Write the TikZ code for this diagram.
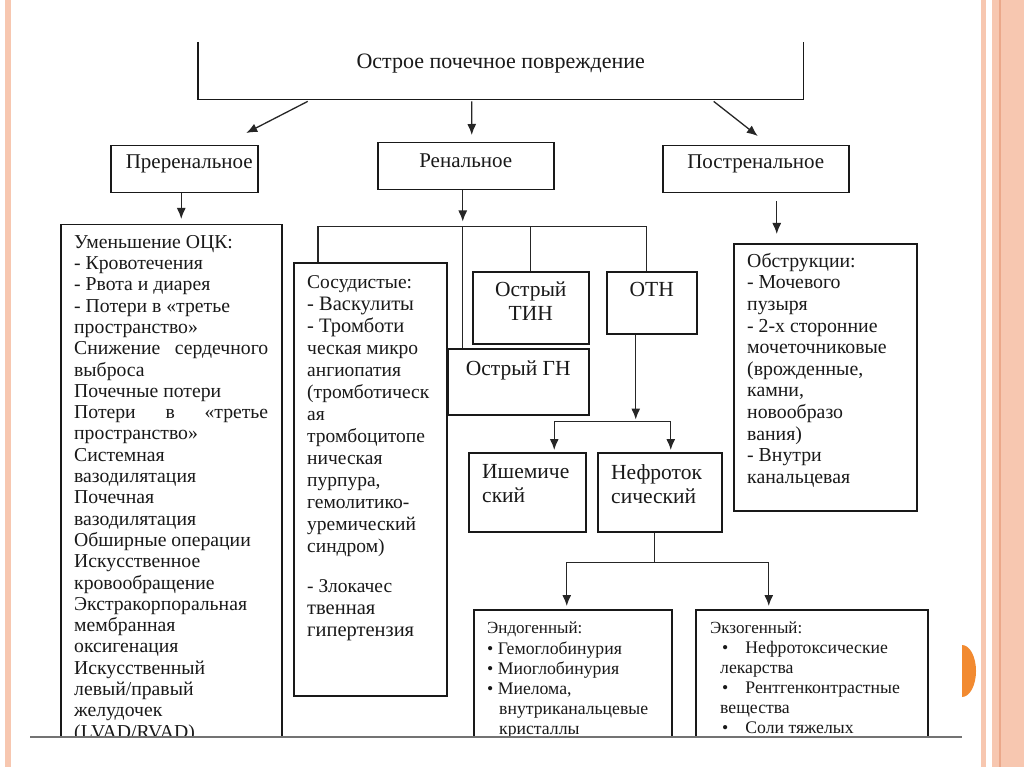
\documentclass[tikz,border=0pt]{standalone}
\usepackage{fontspec}
\setmainfont{Liberation Serif}
\usetikzlibrary{arrows.meta,positioning,calc}
\definecolor{slidepeach}{HTML}{F7C7B0}
\definecolor{slidepeachdk}{HTML}{EBA88A}
\definecolor{slidetab}{HTML}{F28A30}
\newcommand{\fsz}[2]{\fontsize{#1}{#2}\selectfont}
\newcommand{\wideline}[1]{\makebox[194pt][s]{#1}}
\tikzstyle{frame}=[draw=black!90, line width=1.5pt, inner sep=0pt, anchor=north west]
\tikzstyle{txt}=[inner sep=0pt, align=left, text=black!90]
\tikzstyle{ctr}=[inner sep=0pt, align=center, text=black!90, font=\fsz{21}{24}]
\tikzstyle{link}=[draw=black!85, line width=1.3pt]
\tikzstyle{arr}=[link, -{Latex[length=11pt,width=9pt]}]

\begin{document}
\begin{tikzpicture}[x=1pt,y=-1pt]
	\useasboundingbox (0,0) rectangle (1024,767);
	\fill[white] (0,0) rectangle (1024,767);
	\fill[slidepeach] (5,0) rectangle (11,767);
	\fill[slidepeach] (981,0) rectangle (986,767);
	\fill[slidepeach] (992,0) rectangle (1024,767);
	\fill[slidepeachdk] (999,0) rectangle (1001,767);
	\begin{scope}
		\clip (962,600) rectangle (990,740);
		\fill[slidetab] (962,671) ellipse [x radius=14, y radius=26];
	\end{scope}

	\begin{scope}
	\clip (0,0) rectangle (1024,737);
	% top level
	\node[anchor=north west, inner sep=0pt, minimum width=605pt, minimum height=57pt] (ark) at (198,42) {};
	\draw[line width=1.5pt, black!90] (ark.north west) -- (ark.south west) -- (ark.south east) -- (ark.north east);
	\node[ctr, font=\fsz{22}{24}, below=12pt of ark.north] (arktxt) {Острое почечное повреждение};

	\node[frame, minimum width=147pt, minimum height=47pt] (pre) at (110,145) {};
	\node[frame, minimum width=176pt, minimum height=47pt] (ren) at (377,142) {};
	\node[frame, minimum width=186pt, minimum height=47pt] (post) at (662,145) {};
	\node[ctr, below=10pt of pre.north, xshift=5pt] (pretxt) {Преренальное};
	\node[ctr, below=12pt of ren.north] (rentxt) {Ренальное};
	\node[ctr, below=10pt of post.north] (posttxt) {Постренальное};

	\draw[arr] ([xshift=-193pt,yshift=-2pt]ark.south) -- ([xshift=62pt,yshift=12pt]pre.north);
	\draw[arr] ([xshift=-29pt,yshift=-2pt]ark.south) -- ([xshift=6pt,yshift=7pt]ren.north);
	\draw[arr] ([xshift=213pt,yshift=-2pt]ark.south) -- ([xshift=2pt,yshift=9pt]post.north);

	% prerenal
	\node[frame, minimum width=221pt, minimum height=540pt] (prebox) at (60,224) {};
	\draw[arr, shorten >=5pt] ([xshift=-3pt]pre.south) -- ([xshift=-3pt]pre.south |- prebox.north);
	\node[txt, font=\fsz{19.7}{21.3}, below right=11pt and 14pt of prebox.north west] (prelist) {Уменьшение ОЦК:\\
		- Кровотечения\\
		- Рвота и диарея\\
		- Потери в «третье\\
		пространство»\\
		\wideline{Снижение сердечного}\\
		выброса\\
		Почечные потери\\
		\wideline{Потери в «третье}\\
		пространство»\\
		Системная\\
		вазодилятация\\
		Почечная\\
		вазодилятация\\
		Обширные операции\\
		Искусственное\\
		кровообращение\\
		Экстракорпоральная\\
		мембранная\\
		оксигенация\\
		Искусственный\\
		левый/правый\\
		желудочек\\
		(LVAD/RVAD)};

	% renal
	\node[frame, minimum width=153pt, minimum height=433pt] (vasc) at (293,262) {};
	\node[frame, minimum width=116pt, minimum height=72pt] (tin) at (472,271) {};
	\node[frame, minimum width=90pt, minimum height=62pt] (otn) at (606,271) {};
	\node[frame, minimum width=141pt, minimum height=66pt] (gn) at (447,348) {};
	\coordinate (rbus) at ($(ren.south)+(-3,36)$);
	\draw[arr, shorten >=5pt] ([xshift=-3pt]ren.south) -- (rbus);
	\draw[link] ([xshift=25pt]vasc.north west) |- (rbus) -| ([xshift=-5pt]otn.north);
	\draw[link] (tin.north) -- (tin.north |- rbus);
	\draw[link] (rbus) -- (rbus |- gn.north);
	\node[txt, font=\fsz{19.5}{22}, below right=13pt and 14pt of vasc.north west] (vasclist) {Сосудистые:\\
		{\fsz{20.5}{22}- Васкулиты}\\
		{\fsz{20.5}{22}- Тромботи}\\
		ческая микро\\
		ангиопатия\\
		(тромботическ\\
		ая\\
		тромбоцитопе\\
		ническая\\
		пурпура,\\
		гемолитико-\\
		уремический\\
		синдром)\\[18pt]
		- Злокачес\\
		{\fsz{20.5}{22}твенная}\\
		{\fsz{20.5}{22}гипертензия}};
	\node[ctr, font=\fsz{21.5}{24}, below=11pt of tin.north] (tintxt) {Острый\\ТИН};
	\node[ctr, font=\fsz{21.5}{24}, below=11pt of otn.north] (otntxt) {ОТН};
	\node[ctr, font=\fsz{21.5}{24}, below=13pt of gn.north] (gntxt) {Острый ГН};

	% ATN
	\node[frame, minimum width=117pt, minimum height=79pt] (isch) at (468,452) {};
	\node[frame, minimum width=124pt, minimum height=79pt] (nephro) at (597,452) {};
	\coordinate (obus) at ($(otn.south)+(-16,87)$);
	\draw[arr, shorten >=2pt] ([xshift=-16pt]otn.south) -- (obus);
	\draw[arr, shorten >=2pt] (obus) -| ([xshift=27pt]isch.north);
	\draw[arr, shorten >=2pt] (obus) -| ([xshift=11pt]nephro.north);
	\node[txt, font=\fsz{21.5}{24}, below right=12pt and 14pt of isch.north west] (ischtxt) {Ишемиче\\ский};
	\node[txt, font=\fsz{21.5}{24}, below right=12pt and 14pt of nephro.north west] (nephrotxt) {Нефроток\\сический};

	% nephrotoxic
	\node[frame, minimum width=198pt, minimum height=160pt] (endo) at (473,609) {};
	\node[frame, minimum width=232pt, minimum height=160pt] (exo) at (695,609) {};
	\coordinate (nbus) at ($(nephro.south)+(-5,30)$);
	\draw[link] ([xshift=-5pt]nephro.south) -- (nbus);
	\draw[arr, shorten >=3pt] (nbus) -| ([xshift=-6pt]endo.north);
	\draw[arr, shorten >=3pt] (nbus) -| ([xshift=-43pt]exo.north);
	\node[txt, font=\fsz{17.7}{20.2}, below right=13pt and 14pt of endo.north west] (endolist) {{\fsz{17}{20.2}Эндогенный:}\\
		\textbullet\ Гемоглобинурия\\
		\textbullet\ Миоглобинурия\\
		\textbullet\ Миелома,\\
		\hspace*{12pt}внутриканальцевые\\
		\hspace*{12pt}кристаллы};
	\node[txt, font=\fsz{17.7}{20}, below right=13pt and 15pt of exo.north west] (exolist) {{\fsz{17}{20}Экзогенный:}\\
		\hspace*{12pt}\textbullet\hspace{17pt}Нефротоксические\\
		\hspace*{10pt}лекарства\\
		\hspace*{12pt}\textbullet\hspace{17pt}Рентгенконтрастные\\
		\hspace*{10pt}вещества\\
		\hspace*{12pt}\textbullet\hspace{17pt}Соли тяжелых};

	% postrenal
	\node[frame, minimum width=183pt, minimum height=267pt] (obst) at (733,243) {};
	\draw[arr, shorten <=8pt, shorten >=9pt] ([xshift=21pt]post.south) -- ([xshift=21pt]post.south |- obst.north);
	\node[txt, font=\fsz{19.8}{21.6}, below right=10pt and 14pt of obst.north west] (obstlist) {Обструкции:\\
		- Мочевого\\
		пузыря\\
		- 2-х сторонние\\
		мочеточниковые\\
		(врожденные,\\
		камни,\\
		новообразо\\
		вания)\\
		- Внутри\\
		канальцевая};
	\end{scope}

	\draw[black!55, line width=1.3pt] (30,737) -- (962,737);
\end{tikzpicture}
\end{document}
